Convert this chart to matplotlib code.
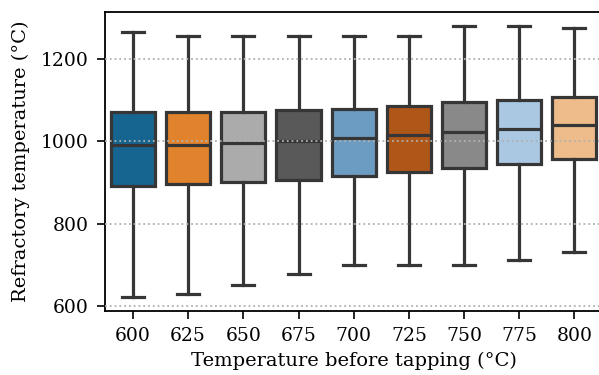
import colorsys

import matplotlib
import numpy as np
from matplotlib import pyplot as plt
from matplotlib import colors as mcolors

matplotlib.use("Agg")

tap_temps = ["600", "625", "650", "675", "700", "725", "750", "775", "800"]
whisker_low = [622, 629, 650, 677, 700, 700, 700, 711, 732]
q1 = [891, 895, 901, 907, 915, 925, 936, 945, 957]
medians = [990, 990, 996, 1001, 1008, 1015, 1023, 1031, 1040]
q3 = [1070, 1071, 1072, 1076, 1079, 1085, 1095, 1101, 1107]
whisker_high = [1265, 1256, 1256, 1256, 1256, 1256, 1280, 1281, 1275]

base_colors = ["#006BA4", "#FF800E", "#ABABAB", "#595959", "#5F9ED1",
               "#C85200", "#898989", "#A2C8EC", "#FFBC79"]


def desaturate(color, prop=0.75):
    r, g, b = mcolors.to_rgb(color)
    h, l, s = colorsys.rgb_to_hls(r, g, b)
    return colorsys.hls_to_rgb(h, l, s * prop)


plt.rcParams["font.family"] = "DejaVu Serif"
plt.rcParams["font.size"] = 13.5

fig = plt.figure(figsize=(5.99, 3.75), dpi=100)
ax = fig.add_axes([0.176, 0.171, 0.829, 0.797])

stats = []
for i, name in enumerate(tap_temps):
    stats.append({
        "label": name,
        "whislo": whisker_low[i],
        "q1": q1[i],
        "med": medians[i],
        "q3": q3[i],
        "whishi": whisker_high[i],
        "fliers": [],
    })

line_color = "#363636"
lw = 2.3
bp = ax.bxp(
    stats,
    positions=np.arange(len(stats)),
    widths=0.8,
    patch_artist=True,
    showfliers=False,
    boxprops=dict(edgecolor=line_color, linewidth=lw),
    medianprops=dict(color=line_color, linewidth=lw),
    whiskerprops=dict(color=line_color, linewidth=lw),
    capprops=dict(color=line_color, linewidth=lw),
)
for patch, c in zip(bp["boxes"], base_colors):
    patch.set_facecolor(desaturate(c))

ax.set_xlim(-0.5, len(stats) - 0.5)
ax.set_ylim(588, 1314)
ax.set_yticks([600, 800, 1000, 1200])
ax.set_xticks(np.arange(len(stats)))
ax.set_xticklabels(tap_temps)

ax.yaxis.grid(True, linestyle=":", color="#b0b0b0", linewidth=1.3)
ax.set_axisbelow(False)
for side in ["left", "bottom", "top"]:
    ax.spines[side].set_linewidth(1.3)
ax.spines["right"].set_visible(False)
ax.tick_params(length=5.8, width=1.2)
ax.tick_params(axis="x", pad=6)
ax.tick_params(axis="y", pad=6)

ax.set_xlabel("Temperature before tapping (°C)", fontsize=14, labelpad=5)
ax.set_ylabel("Refractory temperature (°C)", fontsize=14, labelpad=8)

fig.savefig("out.png", dpi=100)
